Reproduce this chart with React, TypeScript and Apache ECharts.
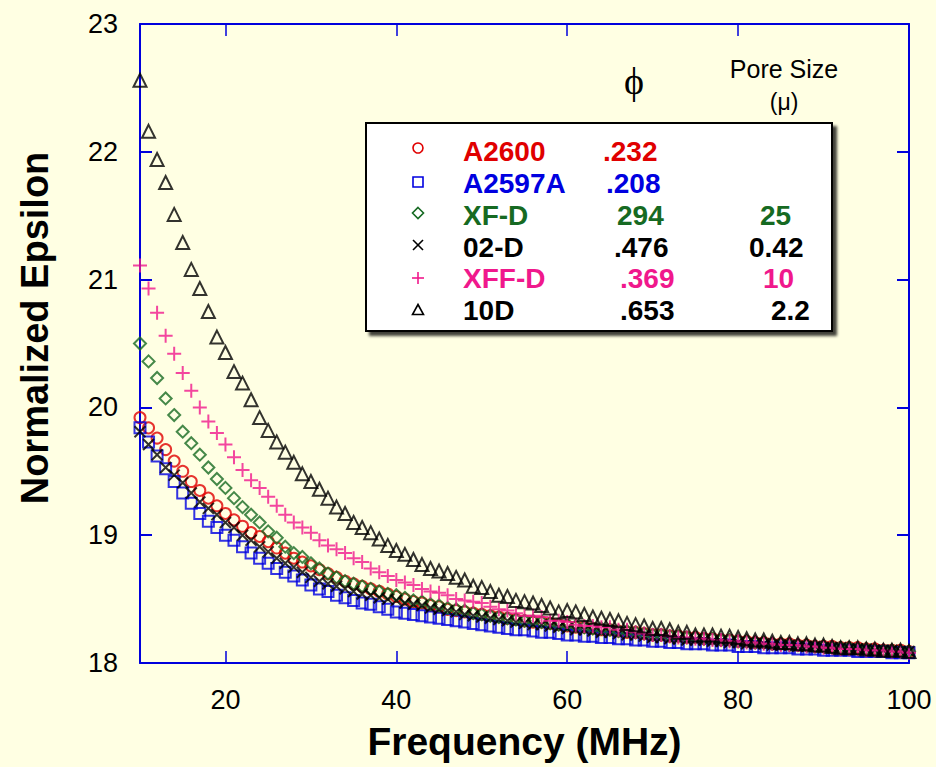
import React, { useEffect, useRef } from "react";
import * as echarts from "echarts";

const freq = [10, 11, 12, 13, 14, 15, 16, 17, 18, 19, 20, 21, 22, 23, 24, 25, 26, 27, 28, 29, 30, 31, 32, 33, 34, 35, 36, 37, 38, 39, 40, 41, 42, 43, 44, 45, 46, 47, 48, 49, 50, 51, 52, 53, 54, 55, 56, 57, 58, 59, 60, 61, 62, 63, 64, 65, 66, 67, 68, 69, 70, 71, 72, 73, 74, 75, 76, 77, 78, 79, 80, 81, 82, 83, 84, 85, 86, 87, 88, 89, 90, 91, 92, 93, 94, 95, 96, 97, 98, 99, 100];

const a2600 = [19.92, 19.84, 19.76, 19.67, 19.58, 19.5, 19.42, 19.35, 19.29, 19.23, 19.17, 19.12, 19.07, 19.02, 18.99, 18.95, 18.9, 18.86, 18.82, 18.79, 18.76, 18.73, 18.7, 18.67, 18.64, 18.62, 18.6, 18.58, 18.56, 18.54, 18.52, 18.5, 18.48, 18.47, 18.45, 18.44, 18.42, 18.41, 18.4, 18.39, 18.38, 18.37, 18.36, 18.35, 18.34, 18.33, 18.32, 18.32, 18.31, 18.3, 18.29, 18.28, 18.28, 18.27, 18.26, 18.26, 18.25, 18.24, 18.24, 18.23, 18.22, 18.22, 18.21, 18.21, 18.2, 18.2, 18.19, 18.19, 18.18, 18.18, 18.17, 18.17, 18.16, 18.16, 18.15, 18.15, 18.15, 18.14, 18.14, 18.13, 18.13, 18.13, 18.12, 18.12, 18.12, 18.11, 18.11, 18.1, 18.1, 18.1, 18.09];

const a2597a = [19.84, 19.73, 19.62, 19.52, 19.42, 19.33, 19.25, 19.17, 19.11, 19.06, 19.0, 18.96, 18.91, 18.86, 18.82, 18.78, 18.74, 18.71, 18.68, 18.65, 18.61, 18.58, 18.56, 18.53, 18.51, 18.49, 18.47, 18.46, 18.44, 18.42, 18.4, 18.39, 18.38, 18.37, 18.36, 18.35, 18.34, 18.33, 18.32, 18.31, 18.3, 18.29, 18.28, 18.27, 18.26, 18.26, 18.25, 18.24, 18.24, 18.23, 18.22, 18.22, 18.21, 18.21, 18.2, 18.2, 18.19, 18.19, 18.18, 18.18, 18.17, 18.17, 18.16, 18.16, 18.15, 18.15, 18.15, 18.14, 18.14, 18.14, 18.13, 18.13, 18.13, 18.12, 18.12, 18.12, 18.12, 18.11, 18.11, 18.11, 18.1, 18.1, 18.1, 18.1, 18.09, 18.09, 18.09, 18.09, 18.08, 18.08, 18.08];

const xfd = [20.5, 20.36, 20.23, 20.07, 19.94, 19.81, 19.72, 19.63, 19.53, 19.44, 19.37, 19.29, 19.22, 19.16, 19.1, 19.03, 18.98, 18.91, 18.86, 18.83, 18.78, 18.74, 18.7, 18.67, 18.64, 18.62, 18.6, 18.58, 18.56, 18.54, 18.53, 18.51, 18.49, 18.48, 18.46, 18.45, 18.43, 18.42, 18.41, 18.39, 18.38, 18.37, 18.36, 18.35, 18.34, 18.33, 18.33, 18.32, 18.31, 18.3, 18.3, 18.29, 18.28, 18.27, 18.27, 18.26, 18.25, 18.25, 18.24, 18.23, 18.22, 18.22, 18.21, 18.21, 18.2, 18.2, 18.19, 18.19, 18.18, 18.18, 18.17, 18.17, 18.16, 18.16, 18.15, 18.15, 18.14, 18.14, 18.14, 18.13, 18.13, 18.12, 18.12, 18.12, 18.11, 18.11, 18.1, 18.1, 18.1, 18.09, 18.09];

const d02 = [19.81, 19.71, 19.63, 19.53, 19.47, 19.41, 19.33, 19.26, 19.21, 19.16, 19.1, 19.06, 19.0, 18.96, 18.91, 18.87, 18.82, 18.78, 18.75, 18.71, 18.67, 18.64, 18.62, 18.6, 18.58, 18.56, 18.54, 18.53, 18.51, 18.5, 18.49, 18.47, 18.46, 18.45, 18.43, 18.42, 18.41, 18.4, 18.38, 18.37, 18.36, 18.35, 18.34, 18.33, 18.32, 18.31, 18.3, 18.3, 18.29, 18.28, 18.27, 18.26, 18.26, 18.25, 18.24, 18.24, 18.23, 18.22, 18.22, 18.21, 18.2, 18.2, 18.19, 18.19, 18.18, 18.18, 18.18, 18.17, 18.17, 18.16, 18.16, 18.15, 18.15, 18.15, 18.14, 18.14, 18.14, 18.13, 18.13, 18.13, 18.12, 18.12, 18.12, 18.11, 18.11, 18.11, 18.1, 18.1, 18.1, 18.09, 18.09];

const xffd = [21.11, 20.93, 20.74, 20.56, 20.42, 20.27, 20.13, 20.0, 19.89, 19.8, 19.71, 19.61, 19.51, 19.43, 19.37, 19.3, 19.23, 19.16, 19.1, 19.06, 19.02, 18.96, 18.92, 18.89, 18.86, 18.82, 18.79, 18.74, 18.71, 18.68, 18.65, 18.63, 18.61, 18.58, 18.56, 18.55, 18.53, 18.5, 18.49, 18.48, 18.47, 18.44, 18.42, 18.41, 18.39, 18.37, 18.37, 18.36, 18.33, 18.33, 18.32, 18.3, 18.29, 18.29, 18.28, 18.28, 18.26, 18.26, 18.24, 18.23, 18.22, 18.22, 18.21, 18.2, 18.2, 18.19, 18.19, 18.18, 18.18, 18.17, 18.17, 18.16, 18.16, 18.15, 18.15, 18.14, 18.14, 18.14, 18.13, 18.13, 18.12, 18.12, 18.11, 18.11, 18.11, 18.1, 18.1, 18.1, 18.09, 18.09, 18.08];

const d10 = [22.56, 22.16, 21.94, 21.76, 21.51, 21.29, 21.08, 20.93, 20.75, 20.55, 20.43, 20.28, 20.19, 20.06, 19.92, 19.82, 19.73, 19.65, 19.57, 19.48, 19.42, 19.36, 19.29, 19.22, 19.17, 19.1, 19.06, 19.02, 18.97, 18.92, 18.88, 18.85, 18.81, 18.77, 18.74, 18.72, 18.7, 18.67, 18.65, 18.6, 18.59, 18.56, 18.53, 18.52, 18.49, 18.48, 18.47, 18.45, 18.43, 18.4, 18.41, 18.4, 18.38, 18.36, 18.35, 18.34, 18.33, 18.31, 18.3, 18.29, 18.27, 18.27, 18.26, 18.24, 18.24, 18.22, 18.22, 18.22, 18.21, 18.21, 18.2, 18.19, 18.18, 18.18, 18.17, 18.16, 18.16, 18.15, 18.15, 18.14, 18.14, 18.13, 18.12, 18.12, 18.12, 18.11, 18.11, 18.1, 18.1, 18.1, 18.09];

const xTicks = [20, 40, 60, 80, 100];

const names = ["A2600", "A2597A", "XF-D", "02-D", "XFF-D", "10D"];
const phiVals = [".232", ".208", "294", ".476", ".369", ".653"];
const poreVals = ["", "", "25", "0.42", "10", "2.2"];

const RED = "#E00000";
const BLUE = "#0000E0";
const GREEN = "#166A22";
const PINK = "#F0188C";
const BLACK = "#000000";
const AXIS = "#0000DD";
const BG = "#FFFFE3";
const FONT = "'Liberation Sans', Arial, sans-serif";

const seriesDefs = [
  { name: names[0], data: a2600, color: RED, symbol: "circle", size: 11 },
  { name: names[1], data: a2597a, color: BLUE, symbol: "rect", size: 11 },
  { name: names[2], data: xfd, color: GREEN, symbol: "diamond", size: 12 },
  { name: names[3], data: d02, color: BLACK, symbol: "path://M0,0L10,10M10,0L0,10", size: 11 },
  { name: names[4], data: xffd, color: PINK, symbol: "path://M5,0L5,10M0,5L10,5", size: 14 },
  { name: names[5], data: d10, color: BLACK, symbol: "triangle", size: 13 },
];

export default function App() {
  const ref = useRef<HTMLDivElement>(null);
  useEffect(() => {
    if (!ref.current) return;
    document.body.style.margin = "0";
    const chart = echarts.init(ref.current, null, { renderer: "svg" });

    const rowY = [151, 183, 215, 247, 278, 310];
    const symY = [148, 182, 213, 245, 278, 310];
    const colors = [RED, BLUE, GREEN, BLACK, PINK, BLACK];
    const phiX = [603, 606, 617, 614, 620, 620];
    const poreX = [0, 0, 760, 749, 763, 771];
    const sx = 418;

    const legendGraphics: any[] = [];
    legendGraphics.push({
      type: "rect",
      shape: { x: 366, y: 123, width: 466, height: 208 },
      style: {
        fill: "#ffffff",
        stroke: "#000",
        lineWidth: 2,
        shadowBlur: 3,
        shadowOffsetX: 4,
        shadowOffsetY: 4,
        shadowColor: "rgba(0,0,0,0.75)",
      },
      z: 10,
    });
    legendGraphics.push({
      type: "circle",
      shape: { cx: sx, cy: symY[0], r: 5 },
      style: { fill: "none", stroke: RED, lineWidth: 1.6 },
      z: 11,
    });
    legendGraphics.push({
      type: "rect",
      shape: { x: sx - 5, y: symY[1] - 5, width: 10, height: 10 },
      style: { fill: "none", stroke: BLUE, lineWidth: 1.6 },
      z: 11,
    });
    legendGraphics.push({
      type: "polygon",
      shape: { points: [[sx, symY[2] - 5.5], [sx + 5.5, symY[2]], [sx, symY[2] + 5.5], [sx - 5.5, symY[2]]] },
      style: { fill: "none", stroke: GREEN, lineWidth: 1.6 },
      z: 11,
    });
    legendGraphics.push({
      type: "line",
      shape: { x1: sx - 5, y1: symY[3] - 5, x2: sx + 5, y2: symY[3] + 5 },
      style: { stroke: BLACK, lineWidth: 1.6 },
      z: 11,
    });
    legendGraphics.push({
      type: "line",
      shape: { x1: sx + 5, y1: symY[3] - 5, x2: sx - 5, y2: symY[3] + 5 },
      style: { stroke: BLACK, lineWidth: 1.6 },
      z: 11,
    });
    legendGraphics.push({
      type: "line",
      shape: { x1: sx - 6, y1: symY[4], x2: sx + 6, y2: symY[4] },
      style: { stroke: PINK, lineWidth: 1.6 },
      z: 11,
    });
    legendGraphics.push({
      type: "line",
      shape: { x1: sx, y1: symY[4] - 6, x2: sx, y2: symY[4] + 6 },
      style: { stroke: PINK, lineWidth: 1.6 },
      z: 11,
    });
    legendGraphics.push({
      type: "polygon",
      shape: { points: [[sx, symY[5] - 5.5], [sx + 5.5, symY[5] + 4.5], [sx - 5.5, symY[5] + 4.5]] },
      style: { fill: "none", stroke: BLACK, lineWidth: 1.6 },
      z: 11,
    });
    for (let i = 0; i < names.length; i++) {
      legendGraphics.push({
        type: "text",
        x: 463,
        y: rowY[i],
        style: {
          text: names[i],
          fill: colors[i],
          font: `bold 28px ${FONT}`,
          verticalAlign: "middle",
          align: "left",
        },
        z: 11,
      });
      legendGraphics.push({
        type: "text",
        x: phiX[i],
        y: rowY[i],
        style: {
          text: phiVals[i],
          fill: colors[i],
          font: `bold 28px ${FONT}`,
          verticalAlign: "middle",
          align: "left",
        },
        z: 11,
      });
      if (poreVals[i]) {
        legendGraphics.push({
          type: "text",
          x: poreX[i],
          y: rowY[i],
          style: {
            text: poreVals[i],
            fill: colors[i],
            font: `bold 28px ${FONT}`,
            verticalAlign: "middle",
            align: "left",
          },
          z: 11,
        });
      }
    }

    const axisCommon = {
      type: "value" as const,
      axisLine: { show: true, lineStyle: { color: AXIS, width: 2 } },
      splitLine: { show: false },
    };

    const option: any = {
      animation: false,
      backgroundColor: BG,
      grid: { left: 140, right: 27, top: 24, bottom: 104, show: false },
      xAxis: [
        {
          ...axisCommon,
          min: 10,
          max: 100,
          position: "bottom",
          axisTick: { show: true, inside: true, length: 12, customValues: xTicks, lineStyle: { color: AXIS, width: 1.5 } },
          axisLabel: {
            customValues: xTicks,
            color: "#000",
            fontSize: 27,
            fontFamily: FONT,
            margin: 23,
          },
          name: "Frequency (MHz)",
          nameLocation: "middle",
          nameGap: 59,
          nameTextStyle: { color: "#000", fontSize: 39, fontWeight: "bold", fontFamily: FONT },
        },
        {
          ...axisCommon,
          min: 10,
          max: 100,
          position: "top",
          axisTick: { show: true, inside: true, length: 12, customValues: xTicks, lineStyle: { color: AXIS, width: 1.5 } },
          axisLabel: { show: false },
        },
      ],
      yAxis: [
        {
          ...axisCommon,
          min: 18,
          max: 23,
          interval: 1,
          position: "left",
          axisTick: { show: true, inside: true, length: 12, lineStyle: { color: AXIS, width: 2 } },
          axisLabel: { color: "#000", fontSize: 27, fontFamily: FONT, margin: 22 },
        },
        {
          ...axisCommon,
          min: 18,
          max: 23,
          interval: 1,
          position: "right",
          axisTick: { show: true, inside: true, length: 12, lineStyle: { color: AXIS, width: 2 } },
          axisLabel: { show: false },
        },
      ],
      series: seriesDefs.map((s) => ({
        name: s.name,
        type: "scatter",
        xAxisIndex: 0,
        yAxisIndex: 0,
        clip: false,
        symbol: s.symbol,
        symbolSize: s.size,
        data: freq.map((f, i) => [f, s.data[i]]),
        itemStyle: { color: "transparent", borderColor: s.color, borderWidth: 2 },
        emphasis: { disabled: true },
      })),
      graphic: [
        {
          type: "text",
          x: 35,
          y: 328,
          rotation: Math.PI / 2,
          style: {
            text: "Normalized Epsilon",
            fill: "#000",
            font: `bold 38px ${FONT}`,
            align: "center",
            verticalAlign: "middle",
          },
        },
        {
          type: "text",
          x: 634,
          y: 81,
          style: {
            text: "ϕ",
            fill: "#000",
            font: `38px 'Liberation Serif', 'Times New Roman', serif`,
            align: "center",
            verticalAlign: "middle",
          },
        },
        {
          type: "text",
          x: 784,
          y: 69,
          style: {
            text: "Pore Size",
            fill: "#000",
            font: `25px ${FONT}`,
            align: "center",
            verticalAlign: "middle",
          },
        },
        {
          type: "text",
          x: 784,
          y: 102,
          style: {
            text: "(μ)",
            fill: "#000",
            font: `23px ${FONT}`,
            align: "center",
            verticalAlign: "middle",
          },
        },
        ...legendGraphics,
      ],
    };
    chart.setOption(option);
    return () => chart.dispose();
  }, []);
  return (
    <div
      ref={ref}
      style={{ position: "fixed", left: 0, top: 0, width: 936, height: 767 }}
    />
  );
}
